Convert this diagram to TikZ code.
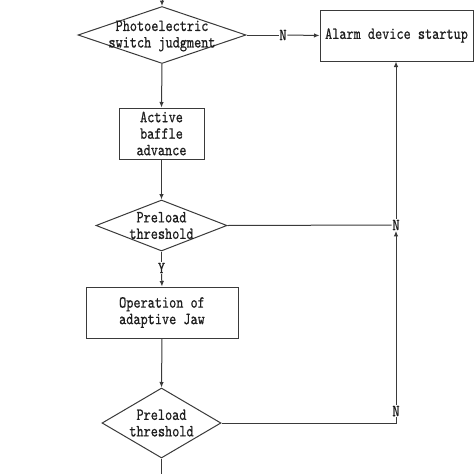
\documentclass[tikz,border=0pt]{standalone}
\usepackage{fontspec}
\newfontfamily\flowfont{lmmono10-regular.otf}[FakeStretch=0.8,FakeBold=0.6]
\usetikzlibrary{shapes.geometric,arrows.meta}
\definecolor{linec}{HTML}{3A3A3A}
\definecolor{textc}{HTML}{1E1E1E}
\begin{document}
\begin{tikzpicture}[x=1pt,y=-1pt,
  every node/.style={font=\flowfont\fontsize{17}{16.5}\selectfont, text=textc, inner sep=0pt, align=center},
  proc/.style={draw=linec, line width=1pt, rectangle},
  conn/.style={draw=linec, line width=1pt},
  arr/.style={conn, -{Latex[length=5.5pt,width=4.5pt]}},
  lbl/.style={fill=white, inner sep=0.5pt}]
\useasboundingbox (0,0) rectangle (474,474);
\fill[white] (0,0) rectangle (474,474);
% nodes
\node[draw=linec, line width=1pt, diamond, minimum width=168pt, minimum height=57pt, aspect=2.9] (d1) at (162,35) {};
\node at (162,36) {Photoelectric\\switch judgment};
\node[proc, minimum width=153pt, minimum height=51pt] (alarm) at (396.5,35.5) {Alarm device startup};
\node[proc, minimum width=85pt, minimum height=51pt] (b1) at (161.5,133.5) {Active\\baffle\\advance};
\node[draw=linec, line width=1pt, diamond, minimum width=131pt, minimum height=51pt, aspect=2.6] (d2) at (161.5,225.5) {};
\node at (161.5,225.5) {Preload\\threshold};
\node[proc, minimum width=152pt, minimum height=51pt] (b2) at (162,312.5) {Operation of\\adaptive Jaw};
\node[draw=linec, line width=1pt, diamond, minimum width=119pt, minimum height=70pt, aspect=1.7] (d3) at (161.5,423) {};
\node at (161.5,423) {Preload\\threshold};
% labels / coordinates
\coordinate (top) at (162,0);
\coordinate (bot) at (161.5,474);
\node[lbl] (n1) at (283,35) {N};
\node[lbl] (nj) at (396,225) {N};
\node[lbl] (n2) at (396,411) {N};
\node[lbl] (y1) at (161.5,268) {Y};
% connectors
\draw[arr] (top) -- (d1.north);
\draw[conn] (d1.east) -- (n1.west);
\draw[arr] (n1.east) -- (alarm.west);
\draw[arr] (d1.south) -- (b1.north);
\draw[arr] (b1.south) -- (d2.north);
\draw[conn] (d2.east) -- (nj.west);
\draw[arr] (nj.north) -- (nj.north |- alarm.south);
\draw[conn] (d2.south) -- (y1.north);
\draw[arr] (y1.south) -- (b2.north);
\draw[arr] (b2.south) -- (d3.north);
\draw[conn] (d3.east) -- (d3.east -| n2) -- (n2.south);
\draw[arr] (n2.north) -- (nj.south);
\draw[conn] (d3.south) -- (bot);
\end{tikzpicture}
\end{document}
